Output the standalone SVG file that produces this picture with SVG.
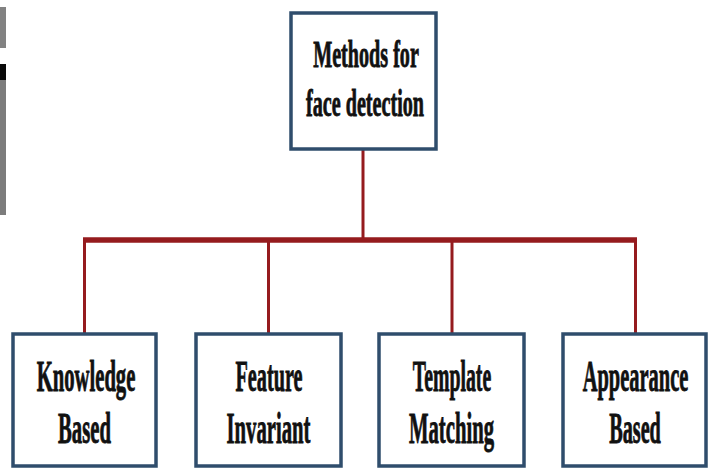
<svg xmlns="http://www.w3.org/2000/svg" width="708" height="470" viewBox="0 0 708 470">
<style>
.box{fill:#ffffff;stroke:#2f4d6c;stroke-width:3.5}
.lbl{font-family:"Liberation Serif","Times New Roman",serif;font-weight:bold;fill:#111111;stroke:#111111;stroke-width:0.9;text-anchor:middle}
.top{font-size:38px}
.bot{font-size:44px}
.conn{stroke:#951b1e;fill:none}
</style>
<rect x="0" y="0" width="708" height="470" fill="#ffffff"/>
<g id="edge-artifact">
<rect x="0" y="7" width="6" height="41" fill="#828282"/>
<rect x="0" y="64" width="6" height="16" fill="#0a0a0a"/>
<rect x="0" y="80" width="6" height="135" fill="#7c7c7c"/>
</g>
<g id="connectors">
<line class="conn" x1="363" y1="150" x2="363" y2="240" stroke-width="3"/>
<line class="conn" x1="83" y1="240" x2="637" y2="240" stroke-width="5.5"/>
<line class="conn" x1="84.5" y1="240" x2="84.5" y2="333" stroke-width="3"/>
<line class="conn" x1="268.5" y1="240" x2="268.5" y2="333" stroke-width="3"/>
<line class="conn" x1="452" y1="240" x2="452" y2="333" stroke-width="3"/>
<line class="conn" x1="635.5" y1="240" x2="635.5" y2="333" stroke-width="3"/>
</g>
<g id="root">
<rect class="box" x="291" y="13" width="145" height="136"/>
<text class="lbl top" transform="translate(366 67) scale(0.53 1)">Methods for</text>
<text class="lbl top" transform="translate(365 116) scale(0.53 1)">face detection</text>
</g>
<g id="knowledge">
<rect class="box" x="13" y="334" width="143" height="132"/>
<text class="lbl bot" transform="translate(86 391) scale(0.47 1)">Knowledge</text>
<text class="lbl bot" transform="translate(84.5 443) scale(0.47 1)">Based</text>
</g>
<g id="feature">
<rect class="box" x="196" y="334" width="145" height="132"/>
<text class="lbl bot" transform="translate(269 391) scale(0.46 1)">Feature</text>
<text class="lbl bot" transform="translate(268.5 443) scale(0.47 1)">Invariant</text>
</g>
<g id="template">
<rect class="box" x="379" y="334" width="145" height="132"/>
<text class="lbl bot" transform="translate(452 391) scale(0.45 1)">Template</text>
<text class="lbl bot" transform="translate(451.5 443) scale(0.47 1)">Matching</text>
</g>
<g id="appearance">
<rect class="box" x="563" y="334" width="143" height="132"/>
<text class="lbl bot" transform="translate(635.5 391) scale(0.465 1)">Appearance</text>
<text class="lbl bot" transform="translate(635 443) scale(0.46 1)">Based</text>
</g>
</svg>
